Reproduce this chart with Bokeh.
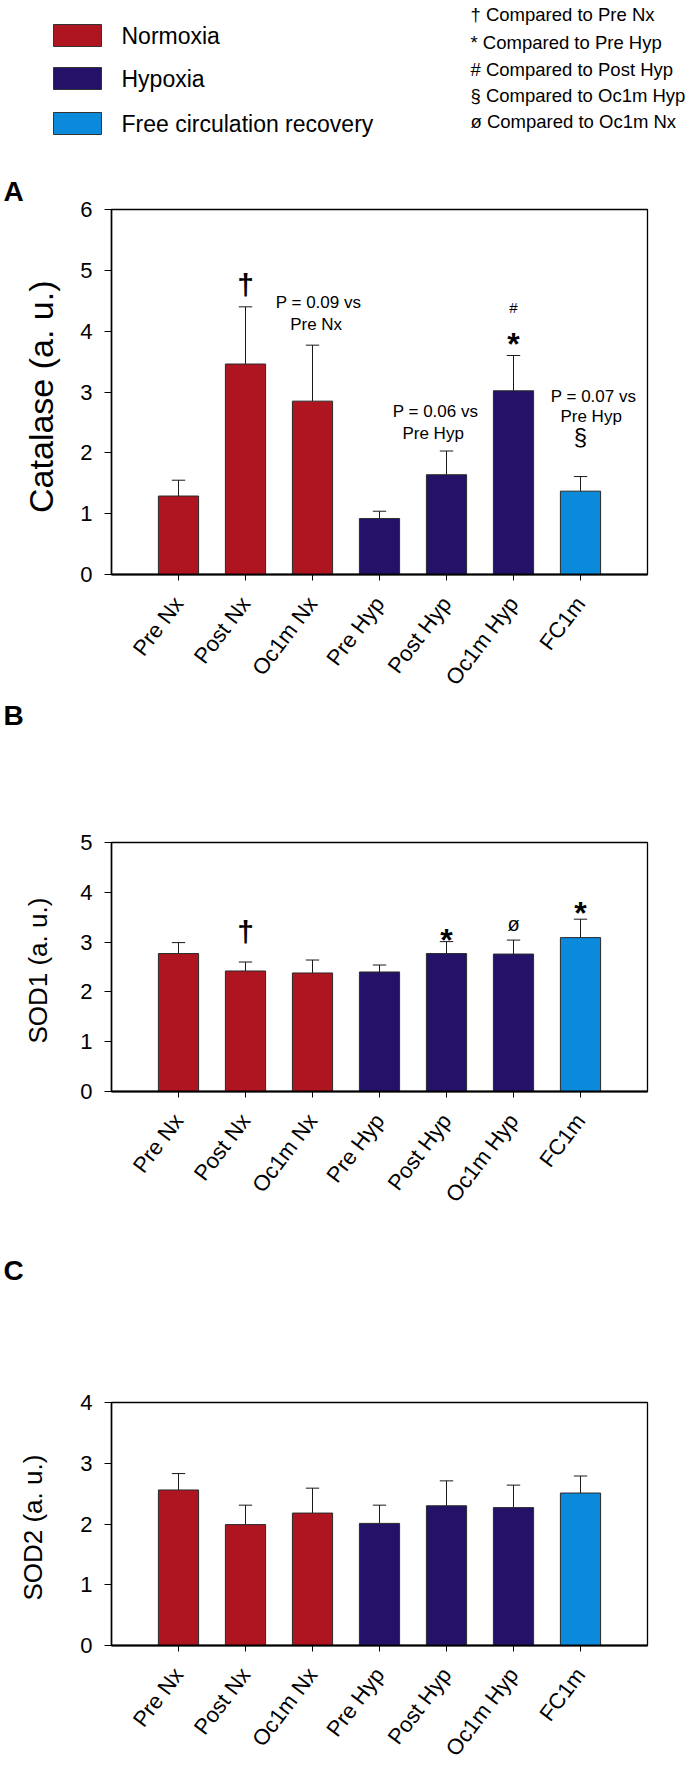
from bokeh.plotting import figure
from bokeh.layouts import column
from bokeh.models import Range1d, FixedTicker, ColumnDataSource
from bokeh.core.properties import value
from bokeh.embed import file_html
from bokeh.resources import INLINE

# ---------------- data ----------------
categories = ["Pre Nx", "Post Nx", "Oc1m Nx", "Pre Hyp", "Post Hyp", "Oc1m Hyp", "FC1m"]
groups = ["Normoxia", "Normoxia", "Normoxia", "Hypoxia", "Hypoxia", "Hypoxia",
          "Free circulation recovery"]

catalase_mean = [1.29, 3.46, 2.85, 0.92, 1.64, 3.02, 1.37]
catalase_err = [0.26, 0.94, 0.92, 0.12, 0.39, 0.58, 0.24]
sod1_mean = [2.77, 2.42, 2.38, 2.40, 2.77, 2.76, 3.09]
sod1_err = [0.22, 0.18, 0.26, 0.14, 0.24, 0.28, 0.37]
sod2_mean = [2.56, 1.99, 2.18, 2.01, 2.30, 2.27, 2.51]
sod2_err = [0.27, 0.32, 0.41, 0.30, 0.41, 0.37, 0.28]

legend_groups = ["Normoxia", "Hypoxia", "Free circulation recovery"]
symbol_notes = ["† Compared to Pre Nx", "* Compared to Pre Hyp", "# Compared to Post Hyp",
                "§ Compared to Oc1m Hyp", "ø Compared to Oc1m Nx"]

catalase_ann_cat = ["Post Nx", "Oc1m Nx", "Oc1m Nx", "Post Hyp", "Post Hyp",
                    "Oc1m Hyp", "Oc1m Hyp", "FC1m", "FC1m", "FC1m"]
catalase_ann_text = ["†", "P = 0.09 vs", "Pre  Nx", "P = 0.06 vs", "Pre  Hyp",
                     "*", "#", "P = 0.07 vs", "Pre  Hyp", "§"]
sod1_ann_cat = ["Post Nx", "Post Hyp", "Oc1m Hyp", "FC1m"]
sod1_ann_text = ["†", "*", "ø", "*"]
sod2_ann_cat = []
sod2_ann_text = []

# ---------------- style ----------------
FONT = "Liberation Sans"
group_colors = {"Normoxia": "#AE1520", "Hypoxia": "#231268",
                "Free circulation recovery": "#0B89DA"}

# per-annotation style: (size px, bold, dx px, y_offset px from error-bar top)
catalase_ann_style = [(30, True, 0, -22), (17, False, 6, -43), (17, False, 6, -21),
                      (17, False, -11, -40), (17, False, -11, -18),
                      (32, True, 0, -12), (15, False, 0, -48),
                      (17, False, 13, -80), (17, False, 13, -60), (24, False, 0, -40)]
sod1_ann_style = [(30, True, 0, -31), (32, True, 0, -2), (20, False, 0, -16), (32, True, 0, -6)]
sod2_ann_style = []

W = 688
BL, BR = 111, 41


def no_align(fig):
    if hasattr(fig, "frame_align"):
        fig.frame_align = False


def text_strip(height, y0):
    """A full-width strip whose data coordinates are page pixels."""
    f = figure(width=W, height=height, x_range=Range1d(0, W), y_range=Range1d(y0 + height, y0),
               output_backend="svg", toolbar_location=None, min_border=0)
    f.min_border_left = 0
    f.min_border_right = 0
    f.min_border_top = 0
    f.min_border_bottom = 0
    f.axis.visible = False
    f.xgrid.visible = False
    f.ygrid.visible = False
    f.outline_line_color = None
    no_align(f)
    return f


def letter(f, txt, x, y):
    f.text(x=[x], y=[y], text=[txt], text_font=value(FONT), text_font_size="28px",
           text_font_style="bold", text_align="left", text_baseline="middle",
           text_color="black")


def make_panel(mean, err, ylabel, ymax, height, btop, bbot, label_size, label_standoff,
               ann_cat, ann_text, ann_style):
    p = figure(width=W, height=height, x_range=Range1d(0, 8), y_range=Range1d(0, ymax),
               output_backend="svg", toolbar_location=None,
               min_border_left=BL, min_border_right=BR,
               min_border_top=btop, min_border_bottom=bbot)
    p.xgrid.visible = False
    p.ygrid.visible = False
    p.outline_line_color = "black"
    p.outline_line_width = 1.3
    p.outline_line_alpha = 1.0

    xs = list(range(1, len(categories) + 1))
    upper = [m + e for m, e in zip(mean, err)]
    src = ColumnDataSource(dict(x=xs, top=mean, upper=upper,
                                c0=[x - 0.1 for x in xs], c1=[x + 0.1 for x in xs],
                                color=[group_colors[g] for g in groups]))
    p.segment(x0="x", y0="top", x1="x", y1="upper", source=src,
              line_color="#1a1a1a", line_width=1)
    p.segment(x0="c0", y0="upper", x1="c1", y1="upper", source=src,
              line_color="#1a1a1a", line_width=1)
    p.vbar(x="x", top="top", bottom=0, width=0.6, source=src,
           fill_color="color", line_color="#2a2a2a", line_width=1)

    for cat, txt, st in zip(ann_cat, ann_text, ann_style):
        i = categories.index(cat)
        size, bold, dx, dy = st
        p.text(x=[xs[i]], y=[upper[i]], text=[txt], text_font=value(FONT),
               text_font_size=f"{size}px", text_font_style="bold" if bold else "normal",
               text_align="center", text_baseline="middle",
               x_offset=dx, y_offset=dy, text_color="black")

    p.yaxis.ticker = FixedTicker(ticks=list(range(0, ymax + 1)))
    p.xaxis.ticker = FixedTicker(ticks=xs)
    p.xaxis.major_label_overrides = {x: c for x, c in zip(xs, categories)}
    p.xaxis.major_label_orientation = 0.92
    for ax in (p.xaxis, p.yaxis):
        ax.axis_line_color = "black"
        ax.major_tick_line_color = "black"
        ax.major_tick_line_width = 1
        ax.major_tick_in = 0
        ax.minor_tick_line_color = None
        ax.major_label_text_font = FONT
        ax.major_label_text_color = "black"
    p.xaxis.axis_line_width = 1.8
    p.yaxis.axis_line_width = 1.5
    p.yaxis.major_tick_out = 7
    p.xaxis.major_tick_out = 6
    p.yaxis.major_label_text_font_size = "22px"
    p.xaxis.major_label_text_font_size = "22px"
    p.yaxis.major_label_standoff = 12
    p.xaxis.major_label_standoff = 19
    p.yaxis.axis_label = ylabel
    p.yaxis.axis_label_text_font = FONT
    p.yaxis.axis_label_text_font_size = f"{label_size}px"
    p.yaxis.axis_label_text_font_style = "normal"
    p.yaxis.axis_label_text_color = "black"
    p.yaxis.axis_label_standoff = label_standoff
    return p


# ---------------- header: legend ----------------
h = text_strip(169, 0)
sw_y = [35, 78, 123]
h.quad(left=[53] * 3, right=[101] * 3, top=[y - 11 for y in sw_y], bottom=[y + 11 for y in sw_y],
       fill_color=[group_colors[g] for g in legend_groups], line_color="#333333", line_width=1)
h.text(x=[121] * 3, y=sw_y, text=legend_groups, text_font=value(FONT), text_font_size="23px",
       text_baseline="middle", text_align="left", text_color="black")
note_y = [14, 42, 69, 95, 121]
h.text(x=[470] * 5, y=note_y, text=symbol_notes, text_font=value(FONT), text_font_size="18.5px",
       text_baseline="middle", text_align="left", text_color="black")

pA = make_panel(catalase_mean, catalase_err, "Catalase  (a. u.)", 6, 531, 40, 123, 34, 17,
                catalase_ann_cat, catalase_ann_text, catalase_ann_style)
# panel letter "A" as the panel title, pulled left over the axis area
pA.title.text = "A"
pA.title.align = "left"
pA.title.offset = -108
pA.title.standoff = 6
pA.title.text_font = FONT
pA.title.text_font_size = "28px"
pA.title.text_font_style = "bold"
pA.title.text_color = "black"

sB = text_strip(40, 700)
letter(sB, "B", 3, 715)

pB = make_panel(sod1_mean, sod1_err, "SOD1  (a. u.)", 5, 515, 102, 164, 26, 24,
                sod1_ann_cat, sod1_ann_text, sod1_ann_style)

sC = text_strip(35, 1255)
letter(sC, "C", 3, 1270)

pC = make_panel(sod2_mean, sod2_err, "SOD2  (a. u.)", 4, 481, 112, 119, 26, 29,
                sod2_ann_cat, sod2_ann_text, sod2_ann_style)

layout = column(h, pA, sB, pB, sC, pC, spacing=0)
open("out.html", "w").write(file_html(layout, INLINE))
